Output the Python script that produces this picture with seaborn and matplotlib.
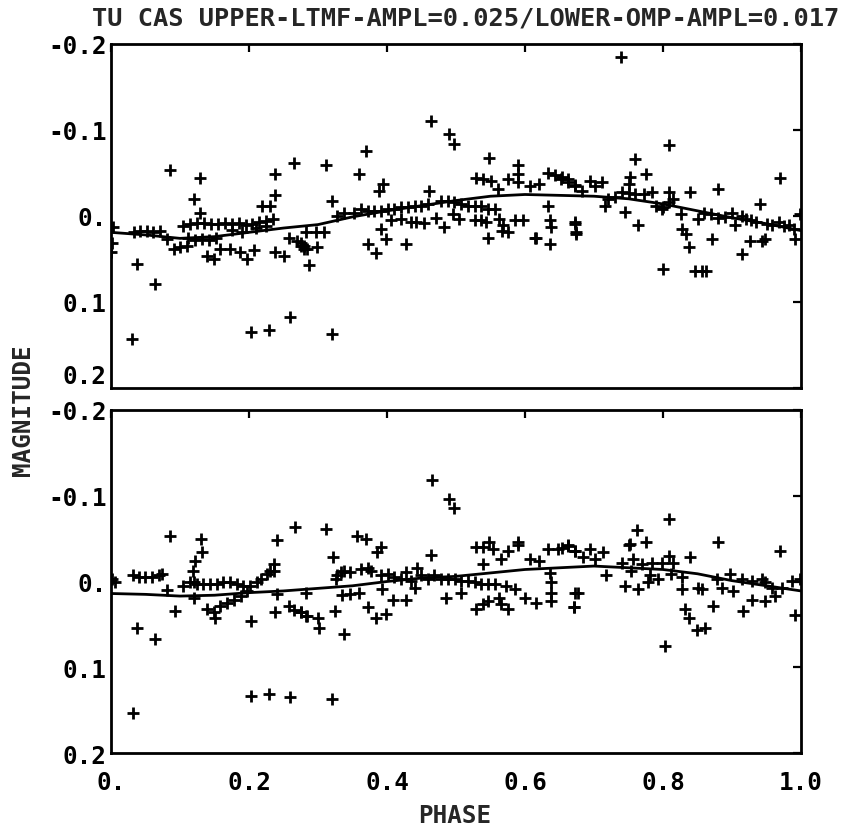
import numpy as np
import pandas as pd
import matplotlib
matplotlib.use("Agg")
import matplotlib.pyplot as plt
import seaborn as sns

# ---------------- data ----------------
upper_phase = [
    0.003, 0.001, 0.0, 0.031, 0.038, 0.064, 0.086,
    0.033, 0.042, 0.052, 0.061, 0.071,
    0.081, 0.091, 0.100, 0.110,
    0.129, 0.121, 0.129,
    0.105, 0.115, 0.125, 0.135, 0.145, 0.155, 0.165, 0.175, 0.185, 0.195, 0.205, 0.215, 0.225, 0.235,
    0.112, 0.122, 0.132, 0.142, 0.152,
    0.175, 0.190, 0.210, 0.225,
    0.139, 0.149, 0.158, 0.173, 0.187, 0.197,
    0.203, 0.229, 0.259,
    0.238, 0.238, 0.219, 0.231, 0.238, 0.207, 0.265,
    0.258, 0.270, 0.279, 0.284, 0.299,
    0.311, 0.321, 0.369, 0.360, 0.394, 0.389, 0.464, 0.490, 0.497, 0.461, 0.548,
    0.590, 0.590, 0.590, 0.575, 0.529, 0.539, 0.551, 0.561, 0.607, 0.621,
    0.633, 0.643, 0.652, 0.662, 0.672, 0.633, 0.636, 0.638, 0.636, 0.614, 0.672, 0.674,
    0.328, 0.338, 0.352, 0.362, 0.372, 0.381, 0.391, 0.401, 0.410, 0.420, 0.430, 0.440,
    0.449, 0.459, 0.478, 0.488, 0.497, 0.507, 0.517, 0.527, 0.536, 0.546, 0.556,
    0.282, 0.297, 0.309, 0.275, 0.251, 0.287, 0.372, 0.384, 0.391, 0.398,
    0.406, 0.420, 0.435, 0.442, 0.454,
    0.427, 0.471, 0.483, 0.495, 0.505, 0.527, 0.536, 0.543, 0.546, 0.563, 0.568, 0.575,
    0.566, 0.585, 0.597, 0.616, 0.320, 0.275, 0.279,
    0.739, 0.808, 0.760, 0.776, 0.752, 0.750,
    0.740, 0.750, 0.760, 0.772, 0.784,
    0.653, 0.663, 0.672, 0.682, 0.694, 0.701, 0.711,
    0.716, 0.745, 0.764, 0.672, 0.674,
    0.798, 0.808, 0.808, 0.815, 0.826, 0.828, 0.834, 0.837,
    0.800, 0.851, 0.846, 0.856, 0.863, 0.839, 0.880, 0.871,
    0.880, 0.900, 0.905, 0.914, 0.928, 0.914, 0.926, 0.943, 0.948, 0.941, 0.969,
    0.958, 0.968, 0.982, 0.991, 0.999,
    0.860, 0.870, 0.890, 0.920, 0.935, 0.950, 0.975, 0.990,
    0.720, 0.730, 0.790, 0.800,
]
upper_mag = [
    0.013, 0.031, 0.042, 0.143, 0.056, 0.079, -0.053,
    0.019, 0.018, 0.018, 0.019, 0.018,
    0.027, 0.038, 0.036, 0.035,
    -0.044, -0.020, -0.004,
    0.012, 0.009, 0.008, 0.008, 0.009, 0.009, 0.008, 0.009, 0.008, 0.010, 0.009, 0.007, 0.006, 0.004,
    0.026, 0.028, 0.027, 0.028, 0.026,
    0.016, 0.019, 0.014, 0.012,
    0.046, 0.050, 0.038, 0.038, 0.042, 0.050,
    0.135, 0.133, 0.118,
    -0.049, -0.024, -0.012, -0.012, 0.042, 0.040, -0.062,
    0.025, 0.029, 0.035, 0.038, 0.036,
    -0.059, -0.018, -0.076, -0.049, -0.037, -0.029, -0.111, -0.095, -0.084, -0.029, -0.068,
    -0.059, -0.049, -0.039, -0.043, -0.044, -0.043, -0.041, -0.031, -0.035, -0.037,
    -0.050, -0.048, -0.043, -0.039, -0.035, -0.012, 0.005, 0.013, 0.033, 0.025, 0.007, 0.019,
    0.000, -0.004, -0.004, -0.008, -0.006, -0.006, -0.006, -0.008, -0.008, -0.010, -0.010, -0.012,
    -0.012, -0.014, -0.018, -0.018, -0.016, -0.014, -0.012, -0.012, -0.012, -0.008, -0.008,
    0.019, 0.019, 0.019, 0.031, 0.046, 0.057, 0.033, 0.043, 0.015, 0.027,
    0.005, 0.003, 0.007, 0.007, 0.008,
    0.033, 0.002, 0.013, -0.002, 0.003, 0.005, 0.005, 0.007, 0.025, 0.004, 0.011, 0.019,
    0.017, 0.005, 0.005, 0.025, 0.137, 0.035, 0.038,
    -0.185, -0.083, -0.066, -0.049, -0.045, -0.037,
    -0.028, -0.027, -0.026, -0.026, -0.028,
    -0.045, -0.043, -0.036, -0.029, -0.041, -0.035, -0.039,
    -0.012, -0.005, 0.011, 0.009, 0.021,
    -0.008, -0.016, -0.028, -0.020, -0.002, 0.015, 0.021, 0.036,
    0.062, 0.003, 0.064, 0.064, 0.064, -0.028, -0.031, 0.027,
    0.002, -0.004, 0.011, 0.000, 0.005, 0.044, 0.029, 0.029, 0.027, -0.014, -0.044,
    0.011, 0.007, 0.011, 0.027, -0.002,
    -0.004, -0.002, 0.001, 0.004, 0.007, 0.009, 0.012, 0.015,
    -0.020, -0.022, -0.012, -0.010,
]

lower_phase = [
    0.006, 0.001, 0.032, 0.038, 0.064, 0.086,
    0.032, 0.040, 0.049, 0.059, 0.069, 0.074,
    0.081, 0.093,
    0.131, 0.132, 0.122, 0.119, 0.120,
    0.105, 0.115, 0.125, 0.134, 0.144, 0.154, 0.163, 0.173, 0.183, 0.192, 0.202, 0.212, 0.217, 0.226, 0.236,
    0.139, 0.149, 0.151,
    0.158, 0.168, 0.178, 0.188, 0.197,
    0.120, 0.203, 0.240, 0.236, 0.231, 0.238, 0.240, 0.266,
    0.258, 0.265, 0.275, 0.284, 0.300, 0.282,
    0.203, 0.229, 0.260,
    0.311, 0.322, 0.357, 0.369, 0.391, 0.386, 0.465, 0.490, 0.497, 0.464,
    0.529, 0.539, 0.548, 0.539, 0.553, 0.565, 0.575, 0.590, 0.590, 0.607, 0.621,
    0.633, 0.648, 0.662, 0.672,
    0.636, 0.637, 0.638, 0.638, 0.672, 0.671,
    0.326, 0.328, 0.333, 0.338,
    0.347, 0.362, 0.372, 0.377, 0.391, 0.401, 0.410, 0.420, 0.427, 0.435, 0.444, 0.449,
    0.459, 0.468, 0.478, 0.488, 0.498, 0.507, 0.517, 0.527, 0.536, 0.546, 0.556,
    0.335, 0.347, 0.360, 0.325, 0.302, 0.337, 0.372, 0.384, 0.398, 0.393, 0.409, 0.427,
    0.440, 0.485, 0.507, 0.529, 0.539, 0.546, 0.563, 0.565, 0.575, 0.572, 0.585, 0.600,
    0.616, 0.321, 0.275, 0.282,
    0.808, 0.762, 0.776, 0.752, 0.750, 0.880, 0.970, 0.839,
    0.653, 0.663, 0.672, 0.684, 0.694, 0.701, 0.713,
    0.718, 0.745, 0.764, 0.677, 0.671,
    0.740, 0.757, 0.769, 0.784, 0.798, 0.808, 0.815,
    0.754, 0.781, 0.793, 0.778, 0.812, 0.827, 0.827, 0.832, 0.837, 0.803, 0.849, 0.861,
    0.851, 0.856, 0.873,
    0.878, 0.885, 0.897, 0.902, 0.914, 0.929, 0.943, 0.948, 0.916, 0.929, 0.948, 0.962,
    0.958, 0.972, 0.987, 0.999, 0.991,
]
lower_mag = [
    0.000, -0.003, 0.153, 0.054, 0.067, -0.053,
    -0.008, -0.005, -0.005, -0.005, -0.007, -0.009,
    0.010, 0.034,
    -0.049, -0.034, -0.024, -0.012, 0.000,
    0.005, 0.001, 0.003, 0.003, 0.003, 0.003, 0.001, 0.001, 0.003, 0.005, 0.005, 0.001, -0.003, -0.009, -0.012,
    0.032, 0.036, 0.042,
    0.028, 0.025, 0.022, 0.017, 0.011,
    0.019, 0.046, -0.048, -0.020, -0.012, 0.036, 0.015, -0.063,
    0.028, 0.033, 0.036, 0.040, 0.042, 0.013,
    0.133, 0.131, 0.135,
    -0.061, -0.029, -0.053, -0.049, -0.040, -0.034, -0.118, -0.096, -0.086, -0.031,
    -0.040, -0.040, -0.046, -0.020, -0.038, -0.026, -0.036, -0.042, -0.046, -0.026, -0.024,
    -0.038, -0.038, -0.043, -0.036,
    -0.010, 0.000, 0.013, 0.023, 0.013, 0.030,
    -0.003, -0.007, -0.011, -0.012,
    -0.011, -0.014, -0.016, -0.012, -0.007, -0.009, -0.005, -0.003, -0.011, -0.001, -0.016, -0.007,
    -0.003, -0.007, -0.003, -0.003, -0.003, -0.001, -0.001, 0.001, 0.003, 0.003, 0.003,
    0.016, 0.015, 0.013, 0.034, 0.054, 0.061, 0.030, 0.042, 0.038, 0.009, 0.021, 0.021,
    0.007, 0.019, 0.013, 0.032, 0.026, 0.023, 0.019, 0.026, 0.032, 0.005, 0.009, 0.019,
    0.025, 0.137, 0.036, 0.040,
    -0.073, -0.060, -0.046, -0.044, -0.042, -0.046, -0.035, -0.028,
    -0.039, -0.041, -0.036, -0.028, -0.038, -0.026, -0.034,
    -0.007, 0.005, 0.009, 0.013, 0.030,
    -0.022, -0.026, -0.020, -0.022, -0.022, -0.030, -0.022,
    -0.012, -0.007, -0.003, 0.001, -0.009, -0.005, 0.009, 0.032, 0.042, 0.075, 0.056, 0.054,
    0.007, 0.009, 0.028,
    -0.003, 0.007, -0.009, 0.011, -0.003, -0.001, -0.003, 0.001, 0.034, 0.021, 0.023, 0.017,
    0.007, 0.007, -0.001, -0.003, 0.039,
]

curve_phase = [0.0, 0.05, 0.10, 0.15, 0.20, 0.25, 0.30, 0.35, 0.40, 0.45, 0.50,
               0.55, 0.60, 0.65, 0.70, 0.75, 0.80, 0.85, 0.90, 0.95, 1.0]
curve_upper = [0.019, 0.022, 0.026, 0.024, 0.019, 0.014, 0.010, 0.001, -0.006, -0.012, -0.018,
               -0.023, -0.025, -0.024, -0.023, -0.020, -0.014, -0.006, 0.002, 0.009, 0.017]
curve_lower = [0.014, 0.015, 0.017, 0.016, 0.013, 0.011, 0.008, 0.005, 0.000, -0.004, -0.006,
               -0.010, -0.014, -0.016, -0.018, -0.016, -0.014, -0.009, -0.001, 0.005, 0.011]

title_text = "TU CAS UPPER-LTMF-AMPL=0.025/LOWER-OMP-AMPL=0.017"
y_ticks = [-0.2, -0.1, 0.0, 0.1, 0.2]
y_ticklabels = ["-0.2", "-0.1", "0.", "0.1", "0.2"]
x_ticks = [0.0, 0.2, 0.4, 0.6, 0.8, 1.0]
x_ticklabels = ["0.", "0.2", "0.4", "0.6", "0.8", "1.0"]

# ---------------- plotting ----------------
sns.set_style("white")
plt.rcParams["font.family"] = ["DejaVu Sans Mono", "DejaVu Sans"]
plt.rcParams["font.weight"] = "bold"
FS = 17.5
FS_TITLE = 18.3

W, H = 843, 828
fig = plt.figure(figsize=(W / 100, H / 100), dpi=100)
L, R = 111, 801
ax_top = fig.add_axes([L / W, (H - 389) / H, (R - L) / W, 344 / H])
ax_bot = fig.add_axes([L / W, (H - 754) / H, (R - L) / W, 343 / H])

panels = [
    (ax_top, upper_phase, upper_mag, curve_upper),
    (ax_bot, lower_phase, lower_mag, curve_lower),
]
for ax, ph, mg, cv in panels:
    pts = pd.DataFrame({"phase": ph, "mag": mg})
    crv = pd.DataFrame({"phase": curve_phase, "mag": cv})
    sns.scatterplot(data=pts, x="phase", y="mag", marker="+", s=85,
                    color="black", linewidth=2.0, ax=ax, zorder=3, legend=False)
    sns.lineplot(data=crv, x="phase", y="mag", color="black", linewidth=2.0,
                 ax=ax, zorder=2, legend=False)
    ax.set_xlim(0, 1)
    ax.set_ylim(0.2, -0.2)
    ax.set_xlabel("")
    ax.set_ylabel("")
    ax.set_yticks(y_ticks)
    ax.set_yticklabels(y_ticklabels, fontsize=FS, fontweight="bold")
    ax.set_xticks(x_ticks)
    ax.tick_params(axis="both", direction="in", length=6, width=1.6,
                   top=True, right=True, colors="black")
    ax.tick_params(axis="y", pad=3)
    ax.tick_params(axis="x", pad=12)
    for sp in ax.spines.values():
        sp.set_visible(True)
        sp.set_color("black")
        sp.set_linewidth(2.0)
    ax.set_facecolor("white")

ax_top.set_xticklabels([])
ax_bot.set_xticklabels(x_ticklabels, fontsize=FS, fontweight="bold")
# bottom label of the upper panel sits just above the join
ax_top.get_yticklabels()[-1].set_va("bottom")

fig.text(466 / W, 1 - 19 / H, title_text, ha="center", va="center",
         fontsize=FS_TITLE, fontweight="bold")
fig.text(23 / W, 1 - 410 / H, "MAGNITUDE", ha="center", va="center",
         rotation=90, fontsize=FS, fontweight="bold")
fig.text(455 / W, 1 - 816 / H, "PHASE", ha="center", va="center",
         fontsize=FS, fontweight="bold")

fig.savefig("out.png", dpi=100, facecolor="white")
